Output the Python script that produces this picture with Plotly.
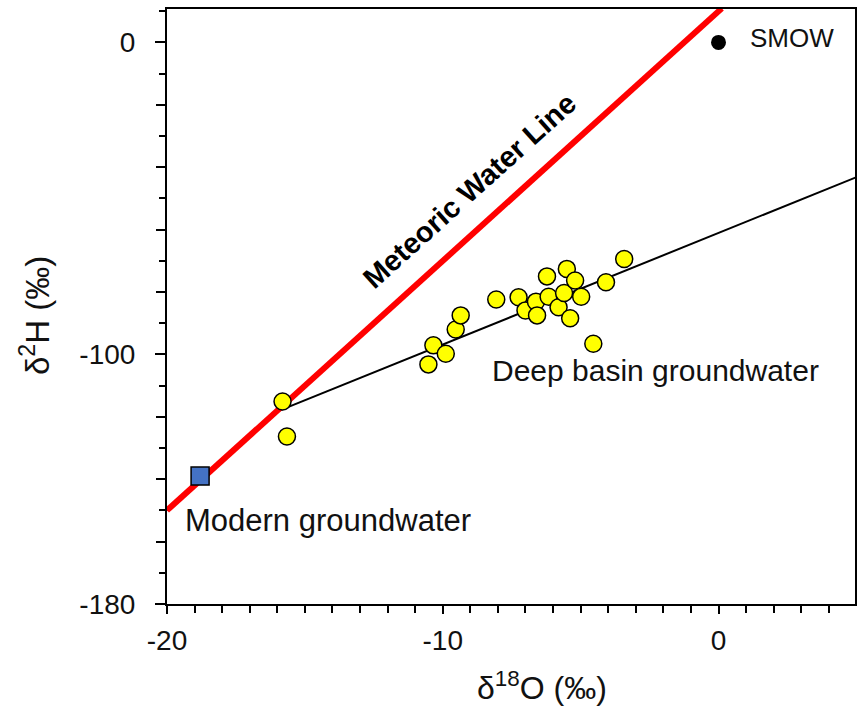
import plotly.graph_objects as go

# ---- data ----
deep_x = [-15.81, -15.65, -10.52, -10.34, -9.89, -9.53, -9.35, -8.06, -7.25, -7.0,
          -6.62, -6.58, -6.22, -6.16, -5.80, -5.60, -5.50, -5.20, -5.38, -4.98,
          -4.54, -4.08, -3.42]
deep_y = [-115.1, -126.3, -103.2, -97.1, -99.8, -92.0, -87.5, -82.4, -81.7, -85.9,
          -83.1, -87.5, -75.0, -81.5, -84.9, -80.3, -72.6, -76.3, -88.4, -81.5,
          -96.6, -76.9, -69.4]

modern_x = [-18.8]
modern_y = [-139.0]

smow_x = [0.0]
smow_y = [0.0]

mwl_x = [-20.0, 0.12]
mwl_y = [-150.0, 10.9]

trend_x = [-16.2, 5.0]
trend_y = [-119.0, -43.2]

x_tickvals = [-20, -10, 0]
x_ticktext = ["-20", "-10", "0"]
y_tickvals = [0, -100, -180]
y_ticktext = ["0", "-100", "-180"]
y_long_ticks = list(range(0, -181, -20))

FONT = "Arial, Liberation Sans, sans-serif"
X_RANGE = [-20, 4.95]
Y_RANGE = [-180, 10.7]

fig = go.Figure()

fig.add_trace(go.Scatter(x=trend_x, y=trend_y, mode="lines",
                         line=dict(color="black", width=2), showlegend=False))
fig.add_trace(go.Scatter(x=mwl_x, y=mwl_y, mode="lines",
                         line=dict(color="#ff0000", width=6), showlegend=False))
fig.add_trace(go.Scatter(x=deep_x, y=deep_y, mode="markers",
                         marker=dict(color="#ffff00", size=17, symbol="circle",
                                     line=dict(color="black", width=1.5)),
                         showlegend=False))
fig.add_trace(go.Scatter(x=modern_x, y=modern_y, mode="markers",
                         marker=dict(color="#4472c4", size=18, symbol="square",
                                     line=dict(color="black", width=1.5)),
                         showlegend=False))
fig.add_trace(go.Scatter(x=smow_x, y=smow_y, mode="markers",
                         marker=dict(color="black", size=15, symbol="circle"),
                         showlegend=False))
# invisible trace to carry the overlay axis with the longer 20-unit ticks
fig.add_trace(go.Scatter(x=[None], y=[None], yaxis="y2", mode="markers",
                         showlegend=False, hoverinfo="skip"))

fig.update_layout(
    width=864, height=709,
    margin=dict(l=167, r=7, t=8, b=105),
    paper_bgcolor="white", plot_bgcolor="white",
    font=dict(family=FONT, color="#111111"),
    xaxis=dict(range=X_RANGE, showgrid=False, zeroline=False,
               showline=True, linecolor="black", linewidth=2, mirror=True,
               ticks="outside", ticklen=8, tickwidth=2, tickcolor="black",
               tickvals=x_tickvals, ticktext=x_ticktext,
               tickfont=dict(size=28, family=FONT, color="#111111"),
               ticklabelstandoff=2,
               minor=dict(dtick=1, tick0=0, ticks="outside", ticklen=7,
                          tickwidth=2, tickcolor="black")),
    yaxis=dict(range=Y_RANGE, showgrid=False, zeroline=False,
               showline=True, linecolor="black", linewidth=2, mirror=True,
               ticks="outside", ticklen=10, tickwidth=2, tickcolor="black",
               tickvals=y_tickvals, ticktext=y_ticktext,
               tickfont=dict(size=28, family=FONT, color="#111111"),
               ticklabelstandoff=14,
               minor=dict(dtick=10, tick0=0, ticks="outside", ticklen=6,
                          tickwidth=2, tickcolor="black")),
    yaxis2=dict(range=Y_RANGE, overlaying="y", side="left", anchor="x",
                showgrid=False, zeroline=False, showline=False,
                ticks="outside", ticklen=10, tickwidth=2, tickcolor="black",
                tickvals=y_long_ticks, showticklabels=False),
    annotations=[
        dict(x=-9.05, y=-47.5, xref="x", yref="y", text="<b>Meteoric Water Line</b>",
             showarrow=False, textangle=-42, font=dict(size=29, family=FONT, color="black")),
        dict(x=-2.27, y=-105.1, xref="x", yref="y", text="Deep basin groundwater",
             showarrow=False, font=dict(size=30, family=FONT, color="#111111")),
        dict(x=-14.16, y=-153.1, xref="x", yref="y", text="Modern groundwater",
             showarrow=False, font=dict(size=31, family=FONT, color="#111111")),
        dict(x=1.06, y=1.3, xref="x", yref="y", text="SMOW", xanchor="left",
             showarrow=False, font=dict(size=26, family=FONT, color="#111111")),
        dict(x=0.545, y=-0.137, xref="paper", yref="paper", text="δ<sup>18</sup>O (‰)",
             showarrow=False, yanchor="middle",
             font=dict(size=32, family=FONT, color="#111111")),
        dict(x=-0.191, y=0.485, xref="paper", yref="paper", text="δ<sup>2</sup>H (‰)",
             showarrow=False, textangle=-90, xanchor="center", yanchor="middle",
             font=dict(size=33, family=FONT, color="#111111")),
    ],
)

fig.write_html("out.html", config={"displayModeBar": False},
               post_script="document.body.style.margin='0';")
